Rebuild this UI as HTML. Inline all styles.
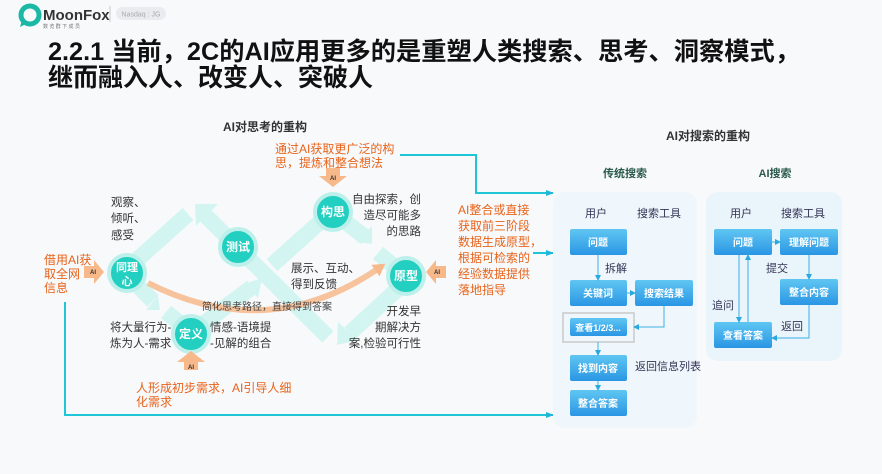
<!DOCTYPE html>
<html><head><meta charset="utf-8"><style>
html,body{margin:0;padding:0;background:#f8f9fb;}
svg{display:block;font-family:"Liberation Sans","Noto Sans CJK SC",sans-serif;}
</style></head><body>
<svg width="882" height="474" viewBox="0 0 882 474" xmlns="http://www.w3.org/2000/svg">
<defs>
<marker id="ta" markerWidth="8" markerHeight="8" refX="7" refY="4" orient="auto" markerUnits="userSpaceOnUse"><path d="M0,1 L8,4 L0,7 z" fill="#1fb6d8"/></marker>
<marker id="sa" markerWidth="6" markerHeight="6" refX="5" refY="3" orient="auto" markerUnits="userSpaceOnUse"><path d="M0,0 L6,3 L0,6 z" fill="#2aa9e0"/></marker>
<marker id="oa" markerWidth="14" markerHeight="14" refX="8" refY="7" orient="auto" markerUnits="userSpaceOnUse"><path d="M0,0 L12,7 L0,14 z" fill="#f7b98a"/></marker>
<linearGradient id="bg" x1="0" y1="0" x2="0" y2="1"><stop offset="0" stop-color="#5fc6f2"/><stop offset="1" stop-color="#2a96e4"/></linearGradient>
</defs>
<rect width="882" height="474" fill="#f8f9fb"/>
<!-- header -->
<circle cx="30" cy="15" r="9" fill="none" stroke="#1cb8a6" stroke-width="5"/>
<path d="M22,20 L20,27 L28,23 z" fill="#1cb8a6"/>
<text x="43" y="20" font-size="15" font-weight="bold" fill="#333">MoonFox</text>
<text x="43" y="28" font-size="5" fill="#777">数 览 群 下 成 员</text>
<line x1="110" y1="6" x2="110" y2="22" stroke="#ccc"/>
<rect x="116" y="7" width="50" height="13" rx="6.5" fill="#e9ebef"/>
<text x="141" y="16.5" font-size="7" fill="#aaa" text-anchor="middle">Nasdaq : JG</text>
<text x="48" y="60" font-size="25" font-weight="bold" fill="#111" textLength="752" lengthAdjust="spacingAndGlyphs">2.2.1 当前，2C的AI应用更多的是重塑人类搜索、思考、洞察模式，</text>
<text x="48" y="86" font-size="25" font-weight="bold" fill="#111">继而融入人、改变人、突破人</text>

<!-- bands -->
<g stroke="#d3f5f1" stroke-width="16" fill="none" stroke-linecap="butt">
<line x1="128" y1="268" x2="188" y2="214"/>
<line x1="135" y1="283" x2="153" y2="301"/>
<line x1="166" y1="312" x2="186" y2="328"/>
<line x1="195" y1="330" x2="252" y2="287"/>
<line x1="204" y1="214" x2="328" y2="337"/>
<line x1="272" y1="265" x2="330" y2="213"/>
<line x1="333" y1="212" x2="366" y2="238"/>
<line x1="378" y1="253" x2="408" y2="278"/>
<line x1="402" y1="285" x2="350" y2="333"/>
</g>
<g fill="#d3f5f1">
<polygon points="195,204 218,204 196,226"/>
<polygon points="158,296 160,310 146,310"/>
<polygon points="262,278 258,298 244,284"/>
<polygon points="372,244 372,226 356,242"/>
<polygon points="337,345 338,322 358,340"/>
</g>
<!-- orange arc -->
<path d="M148,283 Q270,345 382,266" fill="none" stroke="#f7c39c" stroke-width="6" marker-end="url(#oa)"/>
<text x="202" y="310" font-size="10" fill="#444">简化思考路径，直接得到答案</text>

<!-- circles -->
<g fill="#22cfc0" stroke="#bdf0ea" stroke-width="4">
<circle cx="127" cy="273" r="18"/>
<circle cx="238" cy="247" r="18"/>
<circle cx="333" cy="212" r="18"/>
<circle cx="406" cy="276" r="18"/>
<circle cx="191" cy="334" r="18"/>
</g>
<g fill="#fff" font-size="12" font-weight="bold" text-anchor="middle">
<text x="127" y="271" font-size="11">同理</text><text x="127" y="285" font-size="11">心</text>
<text x="238" y="251">测试</text>
<text x="333" y="216">构思</text>
<text x="406" y="280">原型</text>
<text x="191" y="338">定义</text>
</g>

<!-- AI arrow badges -->
<g fill="#f7b98a">
<polygon points="326,168 340,168 340,176 347,176 333,187 319,176 326,176"/>
<polygon points="84,266 94,266 94,260 104,272 94,284 94,278 84,278"/>
<polygon points="446,266 436,266 436,260 426,272 436,284 436,278 446,278"/>
<polygon points="184,370 198,370 198,362 205,362 191,351 177,362 184,362"/>
</g>
<g font-size="6" font-weight="bold" fill="#333" text-anchor="middle">
<text x="333" y="180">AI</text><text x="93" y="274">AI</text><text x="437" y="274">AI</text><text x="191" y="369">AI</text>
</g>

<!-- texts -->
<text x="265" y="131" font-size="12" font-weight="bold" fill="#333" text-anchor="middle">AI对思考的重构</text>
<g font-size="12" fill="#e8631a">
<text x="275" y="153">通过AI获取更广泛的构</text><text x="275" y="167">思，提炼和整合想法</text>
<text x="44" y="264">借用AI获</text><text x="44" y="278">取全网</text><text x="44" y="292">信息</text>
<text x="136" y="392">人形成初步需求，AI引导人细</text><text x="136" y="406">化需求</text>
<text x="458" y="214">AI整合或直接</text><text x="458" y="230">获取前三阶段</text><text x="458" y="246">数据生成原型，</text><text x="458" y="262">根据可检索的</text><text x="458" y="278">经验数据提供</text><text x="458" y="294">落地指导</text>
</g>
<g font-size="11.5" fill="#333">
<text x="111" y="206">观察、</text><text x="111" y="222">倾听、</text><text x="111" y="239">感受</text>
<g text-anchor="end"><text x="421" y="203">自由探索，创</text><text x="421" y="219">造尽可能多</text><text x="421" y="235">的思路</text>
<text x="421" y="315">开发早</text><text x="421" y="331">期解决方</text><text x="421" y="347">案,检验可行性</text></g>
<text x="291" y="272">展示、互动、</text><text x="291" y="288">得到反馈</text>
<text x="110" y="331">将大量行为-</text><text x="110" y="347">炼为人-需求</text>
<text x="210" y="331">情感-语境提</text><text x="210" y="347">-见解的组合</text>
</g>

<!-- teal connectors -->
<g stroke="#1fc6d8" stroke-width="2" fill="none">
<polyline points="400,155 476,155 476,193 553,193" marker-end="url(#ta)"/>
<line x1="533" y1="253" x2="553" y2="253" marker-end="url(#ta)"/>
<polyline points="65,302 65,415 553,415" marker-end="url(#ta)"/>
</g>

<!-- right side -->
<text x="708" y="140" font-size="12" font-weight="bold" fill="#333" text-anchor="middle">AI对搜索的重构</text>
<text x="625" y="177" font-size="11" font-weight="bold" fill="#2a5a4a" text-anchor="middle">传统搜索</text>
<text x="775" y="177" font-size="11" font-weight="bold" fill="#2a5a4a" text-anchor="middle">AI搜索</text>
<rect x="553" y="192" width="144" height="236" rx="12" fill="#f0f7fc"/>
<rect x="706" y="192" width="136" height="169" rx="12" fill="#eaf5fb"/>
<g font-size="11" fill="#335" text-anchor="middle">
<text x="596" y="217">用户</text><text x="659" y="217">搜索工具</text>
<text x="741" y="217">用户</text><text x="803" y="217">搜索工具</text>
</g>
<g font-size="11" fill="#335">
<text x="605" y="272">拆解</text><text x="635" y="370">返回信息列表</text>
<text x="766" y="272">提交</text><text x="712" y="309">追问</text><text x="781" y="330">返回</text>
</g>
<rect x="563" y="313" width="71" height="29" fill="none" stroke="#c8c8c8" stroke-width="1.5"/>
<g fill="url(#bg)">
<rect x="570" y="229" width="57" height="26" rx="2"/>
<rect x="570" y="280" width="57" height="26" rx="2"/>
<rect x="635" y="280" width="58" height="26" rx="2"/>
<rect x="570" y="318" width="57" height="18" rx="2"/>
<rect x="570" y="355" width="57" height="26" rx="2"/>
<rect x="570" y="390" width="57" height="26" rx="2"/>
<rect x="714" y="229" width="58" height="26" rx="2"/>
<rect x="780" y="229" width="58" height="26" rx="2"/>
<rect x="780" y="279" width="58" height="26" rx="2"/>
<rect x="714" y="322" width="58" height="26" rx="2"/>
</g>
<g font-size="10" font-weight="bold" fill="#fff" text-anchor="middle">
<text x="598" y="246">问题</text><text x="598" y="297">关键词</text><text x="664" y="297">搜索结果</text>
<text x="598" y="331" font-size="9">查看1/2/3...</text><text x="598" y="372">找到内容</text><text x="598" y="407">整合答案</text>
<text x="743" y="246">问题</text><text x="809" y="246">理解问题</text><text x="809" y="296">整合内容</text><text x="743" y="339">查看答案</text>
</g>
<g stroke="#3bb0e6" stroke-width="1" fill="none">
<line x1="598" y1="255" x2="598" y2="280" marker-end="url(#sa)"/>
<line x1="627" y1="293" x2="635" y2="293" marker-end="url(#sa)"/>
<polyline points="664,306 664,327 634,327" marker-end="url(#sa)"/>
<line x1="598" y1="342" x2="598" y2="355" marker-end="url(#sa)"/>
<line x1="598" y1="381" x2="598" y2="390" marker-end="url(#sa)"/>
<line x1="772" y1="242" x2="780" y2="242" marker-end="url(#sa)"/>
<line x1="809" y1="255" x2="809" y2="279" marker-end="url(#sa)"/>
<polyline points="809,305 809,338 772,338" marker-end="url(#sa)"/>
<line x1="739" y1="255" x2="739" y2="322" marker-end="url(#sa)"/>
<line x1="748" y1="322" x2="748" y2="255" marker-end="url(#sa)"/>
</g>
</svg>
</body></html>
